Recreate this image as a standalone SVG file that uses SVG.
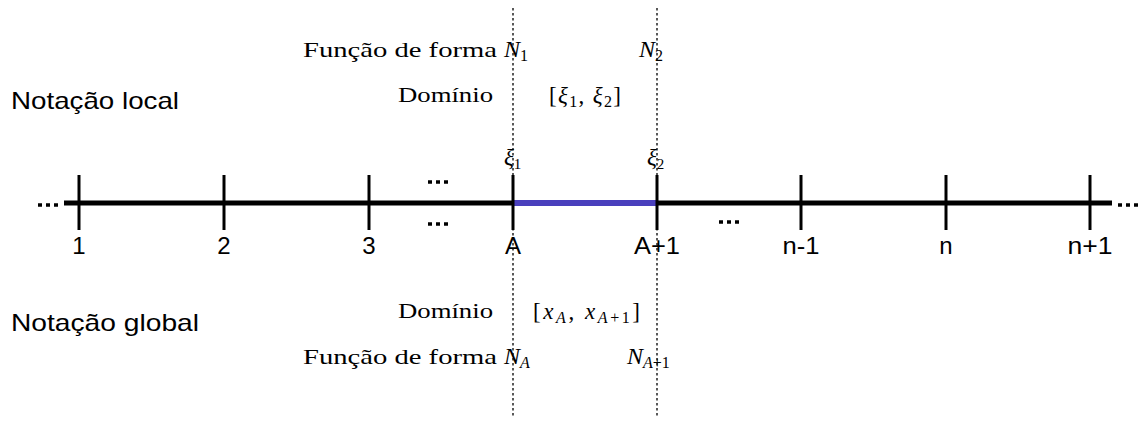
<svg xmlns="http://www.w3.org/2000/svg" width="1142" height="421" viewBox="0 0 1142 421">
<style>
.sans{font-family:"Liberation Sans",Arial,sans-serif;fill:#000}
.lbl{font-family:"Liberation Sans",Arial,sans-serif;fill:#000;font-size:24px;text-anchor:middle}
.serif{font-family:"Liberation Serif","Times New Roman",serif;fill:#000}
.it{font-style:italic}
.tick{stroke:#000;stroke-width:3}
.dots{stroke:#000;stroke-width:3.5;stroke-dasharray:4,4}
.guide{stroke:#000;stroke-width:1.3;stroke-dasharray:2.5,2.5}
</style>
<rect width="1142" height="421" fill="#fff"/>
<g id="connectors">
<line class="guide" x1="513" y1="8" x2="513" y2="416"/>
<line class="guide" x1="657" y1="8" x2="657" y2="416"/>
<line x1="64" y1="203" x2="1112" y2="203" stroke="#000" stroke-width="5"/>
<line x1="513" y1="203" x2="657" y2="203" stroke="#4a40bd" stroke-width="6"/>
<line class="dots" x1="38" y1="205" x2="58" y2="205"/>
<line class="dots" x1="1118" y1="205" x2="1138" y2="205"/>
<line class="dots" x1="428" y1="182" x2="448" y2="182"/>
<line class="dots" x1="428" y1="224" x2="448" y2="224"/>
<line class="dots" x1="719" y1="222" x2="739" y2="222"/>
</g>
<g id="node-1"><line class="tick" x1="79" y1="175" x2="79" y2="230"/><text class="lbl" x="79" y="254">1</text></g>
<g id="node-2"><line class="tick" x1="224" y1="175" x2="224" y2="230"/><text class="lbl" x="224" y="254">2</text></g>
<g id="node-3"><line class="tick" x1="369" y1="175" x2="369" y2="230"/><text class="lbl" x="369" y="254">3</text></g>
<g id="node-A"><line class="tick" x1="513" y1="175" x2="513" y2="230"/><text class="lbl" x="513" y="254">A</text>
<text class="serif" x="504" y="165" font-size="23" font-style="italic">ξ<tspan font-size="15" font-style="normal" dy="4">1</tspan></text></g>
<g id="node-A1"><line class="tick" x1="657" y1="175" x2="657" y2="230"/><text class="lbl" x="657" y="254" textLength="46" lengthAdjust="spacingAndGlyphs">A+1</text>
<text class="serif" x="647" y="165" font-size="23" font-style="italic">ξ<tspan font-size="15" font-style="normal" dy="4">2</tspan></text></g>
<g id="node-n-1"><line class="tick" x1="801" y1="175" x2="801" y2="230"/><text class="lbl" x="801" y="254" textLength="37" lengthAdjust="spacingAndGlyphs">n-1</text></g>
<g id="node-n"><line class="tick" x1="946" y1="175" x2="946" y2="230"/><text class="lbl" x="946" y="254">n</text></g>
<g id="node-n1"><line class="tick" x1="1090" y1="175" x2="1090" y2="230"/><text class="lbl" x="1090" y="254" textLength="45" lengthAdjust="spacingAndGlyphs">n+1</text></g>
<g id="local">
<text class="sans" x="11" y="109" font-size="24" textLength="168" lengthAdjust="spacingAndGlyphs">Notação local</text>
<text class="serif" x="303" y="57" font-size="21" textLength="194" lengthAdjust="spacingAndGlyphs">Função de forma</text>
<text class="serif it" x="504" y="57" font-size="24">N<tspan font-size="16" font-style="normal" dy="4">1</tspan></text>
<text class="serif it" x="639" y="57" font-size="24">N<tspan font-size="16" font-style="normal" dy="4">2</tspan></text>
<text class="serif" x="398" y="102" font-size="21" textLength="95" lengthAdjust="spacingAndGlyphs">Domínio</text>
<text class="serif" x="549" y="103" font-size="23" textLength="72" lengthAdjust="spacing">[<tspan font-style="italic">ξ</tspan><tspan font-size="16" dy="4">1</tspan><tspan dy="-4">, </tspan><tspan font-style="italic">ξ</tspan><tspan font-size="16" dy="4">2</tspan><tspan dy="-4">]</tspan></text>
</g>
<g id="global">
<text class="sans" x="11" y="331" font-size="24" textLength="188" lengthAdjust="spacingAndGlyphs">Notação global</text>
<text class="serif" x="398" y="318" font-size="21" textLength="95" lengthAdjust="spacingAndGlyphs">Domínio</text>
<text class="serif" x="533" y="319" font-size="23" textLength="107" lengthAdjust="spacing">[<tspan font-style="italic">x</tspan><tspan font-size="16" font-style="italic" dy="4">A</tspan><tspan dy="-4">, </tspan><tspan font-style="italic">x</tspan><tspan font-size="16" dy="4"><tspan font-style="italic">A</tspan>+1</tspan><tspan dy="-4">]</tspan></text>
<text class="serif" x="303" y="364" font-size="21" textLength="194" lengthAdjust="spacingAndGlyphs">Função de forma</text>
<text class="serif it" x="504" y="364" font-size="24">N<tspan font-size="16" dy="4">A</tspan></text>
<text class="serif it" x="627" y="364" font-size="24">N<tspan font-size="16" dy="4">A<tspan font-style="normal">+1</tspan></tspan></text>
</g>
</svg>
